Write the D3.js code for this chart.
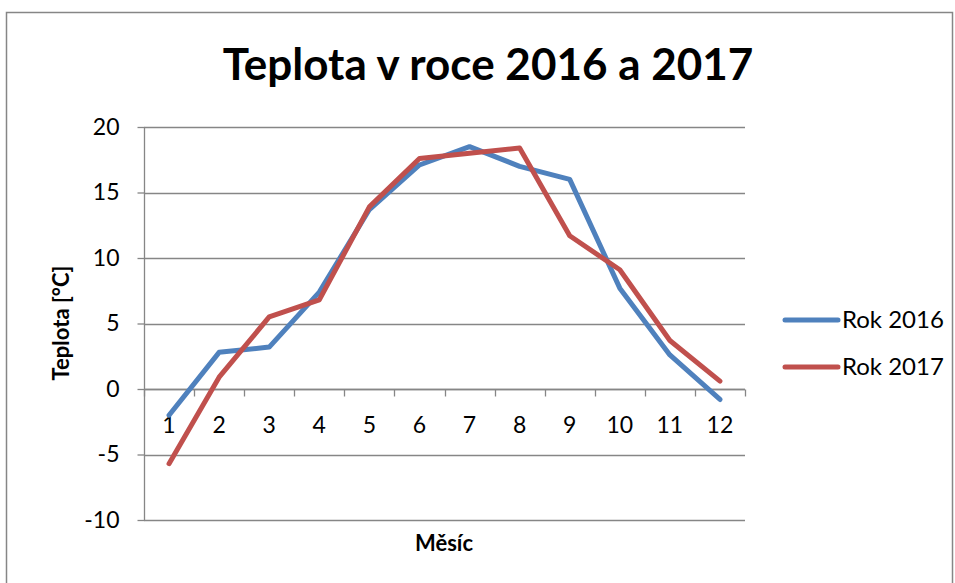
<!DOCTYPE html>
<html>
<head>
<meta charset="utf-8">
<script src="https://cdn.jsdelivr.net/npm/d3@7"></script>
<style>
  html, body { margin: 0; padding: 0; background: #fff; }
  svg { display: block; }
</style>
</head>
<body>
<svg id="chart" width="955" height="583"></svg>
<script>
// Monthly average temperatures
const months = ["1","2","3","4","5","6","7","8","9","10","11","12"];
const rok2016 = [-2.0, 2.8, 3.2, 7.4, 13.7, 17.1, 18.5, 17.0, 16.0, 7.7, 2.6, -0.8];
const rok2017 = [-5.7, 0.9, 5.5, 6.8, 13.9, 17.6, 18.0, 18.4, 11.7, 9.1, 3.7, 0.6];
const yTicks = [-10, -5, 0, 5, 10, 15, 20];
const seriesNames = ["Rok 2016", "Rok 2017"];
const seriesColors = ["#4F81BD", "#C0504D"];

const font = "Lato, 'Liberation Sans', sans-serif";
const svg = d3.select("#chart");

// chart frame
svg.append("rect")
  .attr("x", 6.5).attr("y", 12.5)
  .attr("width", 946).attr("height", 590)
  .attr("fill", "#fff").attr("stroke", "#868686").attr("stroke-width", 1.5);

const plot = { left: 144, right: 745, top: 127, bottom: 520 };

const x = d3.scaleBand().domain(months).range([plot.left, plot.right]);
const y = d3.scaleLinear().domain([-10, 20]).range([plot.bottom, plot.top]);

// horizontal gridlines
svg.append("g")
  .selectAll("line").data(yTicks).join("line")
  .attr("x1", plot.left).attr("x2", plot.right)
  .attr("y1", d => Math.round(y(d)) + 0.5).attr("y2", d => Math.round(y(d)) + 0.5)
  .attr("stroke", "#868686").attr("stroke-width", 1.3);

// vertical axis
const yAxis = svg.append("g")
  .attr("transform", `translate(${plot.left + 0.5},0)`)
  .call(d3.axisLeft(y).tickValues(yTicks).tickSize(7).tickPadding(18).tickFormat(d => String(d)));
yAxis.selectAll("path, line").attr("stroke", "#868686").attr("stroke-width", 1.3);
yAxis.selectAll("text")
  .attr("font-family", font).attr("font-size", 23).attr("fill", "#000");
yAxis.select(".domain").attr("d", `M0,${plot.top}V${plot.bottom}`);

// horizontal category axis at zero
const xAxis = svg.append("g")
  .attr("transform", `translate(0,${Math.round(y(0)) + 0.5})`);
xAxis.append("line")
  .attr("x1", plot.left).attr("x2", plot.right)
  .attr("stroke", "#868686").attr("stroke-width", 1.3);
const boundaries = months.map(m => x(m)).concat([plot.right]);
xAxis.selectAll("line.tick").data(boundaries).join("line")
  .attr("class", "tick")
  .attr("x1", d => Math.round(d) + 0.5).attr("x2", d => Math.round(d) + 0.5)
  .attr("y1", 0).attr("y2", 7)
  .attr("stroke", "#868686").attr("stroke-width", 1.3);
xAxis.selectAll("text").data(months).join("text")
  .attr("x", d => x(d) + x.bandwidth() / 2)
  .attr("y", 43)
  .attr("text-anchor", "middle")
  .attr("font-family", font).attr("font-size", 23).attr("fill", "#000")
  .text(d => d);

// lines
const line = d3.line()
  .x((d, i) => x(months[i]) + x.bandwidth() / 2)
  .y(d => y(d));
[rok2016, rok2017].forEach((vals, k) => {
  svg.append("path")
    .datum(vals)
    .attr("d", line)
    .attr("fill", "none")
    .attr("stroke", seriesColors[k])
    .attr("stroke-width", 5)
    .attr("stroke-linejoin", "round")
    .attr("stroke-linecap", "round");
});

// title
svg.append("text")
  .attr("x", 488).attr("y", 80)
  .attr("text-anchor", "middle")
  .attr("font-family", font).attr("font-weight", "bold").attr("font-size", 44)
  .attr("fill", "#000")
  .text("Teplota v roce 2016 a 2017");

// axis titles
svg.append("text")
  .attr("x", 444).attr("y", 551)
  .attr("text-anchor", "middle")
  .attr("font-family", font).attr("font-weight", "bold").attr("font-size", 22)
  .text("Měsíc");
svg.append("text")
  .attr("transform", "translate(69,323) rotate(-90)")
  .attr("text-anchor", "middle")
  .attr("font-family", font).attr("font-weight", "bold").attr("font-size", 22)
  .text("Teplota [°C]");

// legend
const legend = svg.append("g");
seriesNames.forEach((name, i) => {
  const ly = 320 + i * 47;
  legend.append("line")
    .attr("x1", 785).attr("x2", 838).attr("y1", ly).attr("y2", ly)
    .attr("stroke", seriesColors[i]).attr("stroke-width", 5).attr("stroke-linecap", "round");
  legend.append("text")
    .attr("x", 842).attr("y", ly + 8)
    .attr("font-family", font).attr("font-size", 24).attr("fill", "#000")
    .text(name);
});
</script>
</body>
</html>
